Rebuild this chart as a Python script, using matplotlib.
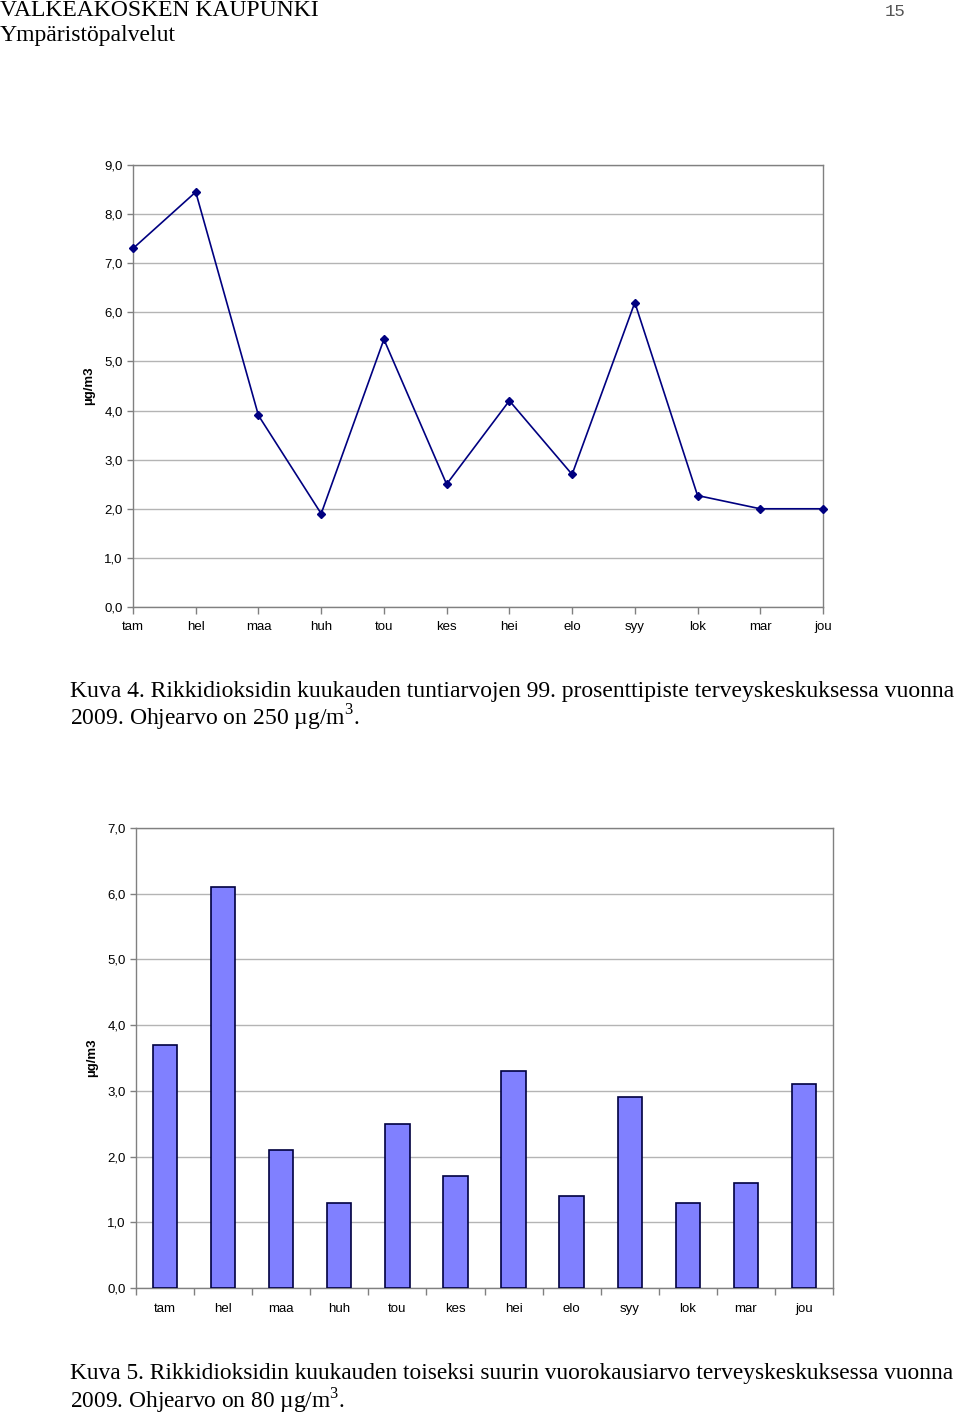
import matplotlib
matplotlib.use("Agg")
import matplotlib.pyplot as plt
import numpy as np

months = ["tam", "hel", "maa", "huh", "tou", "kes", "hei", "elo", "syy", "lok", "mar", "jou"]
p99_values = [7.3, 8.45, 3.9, 1.9, 5.45, 2.5, 4.2, 2.7, 6.2, 2.27, 2.0, 2.0]
second_daily_values = [3.7, 6.1, 2.1, 1.3, 2.5, 1.7, 3.3, 1.4, 2.9, 1.3, 1.6, 3.1]
line_yticks = [0, 1, 2, 3, 4, 5, 6, 7, 8, 9]
bar_yticks = [0, 1, 2, 3, 4, 5, 6, 7]
ylabel = "µg/m3"

plt.rcParams['font.family'] = ['Liberation Sans', 'DejaVu Sans']
plt.rcParams['mathtext.fontset'] = 'custom'
plt.rcParams['mathtext.rm'] = 'Liberation Serif'

fig = plt.figure(figsize=(9.6, 14.16), dpi=100)

def fmt(v):
    return f"{v:.1f}".replace(".", ",")

grid_c = "#b4b4b4"
axis_c = "#808080"

# Header
serif = ['Liberation Serif', 'DejaVu Serif']
fig.text(0.0, 1 - 10/1416, "VALKEAKOSKEN KAUPUNKI", family=serif, fontsize=17, va='center', ha='left')
fig.text(0.0, 1 - 36/1416, "Ympäristöpalvelut", family=serif, fontsize=17, va='center', ha='left')
fig.text(905/960, 1 - 11/1416, "15", family=['Liberation Mono', 'DejaVu Sans Mono'], fontsize=12.5,
         va='center', ha='right', color='#555555')

def style_axes(ax, yticks):
    for s in ax.spines.values():
        s.set_color(axis_c)
        s.set_linewidth(1.0)
    ax.set_yticks(yticks)
    ax.set_yticklabels([fmt(v) for v in yticks], fontsize=9.5)
    ax.yaxis.grid(True, color=grid_c, linewidth=1.0)
    ax.set_axisbelow(True)
    ax.tick_params(axis='both', colors=axis_c, labelcolor='black', length=4, width=1)
    ax.tick_params(axis='x', length=5)
    ax.set_ylabel(ylabel, fontsize=9.5, fontweight='bold')

# Line chart
ax1 = fig.add_axes([133/960, 1 - 607/1416, 690/960, 442/1416])
x = np.arange(len(months))
ax1.plot(x, p99_values, color='#000080', linewidth=1.2, marker='D', markersize=4.5, clip_on=False, zorder=3)
ax1.set_xlim(0, len(months) - 1)
ax1.set_ylim(0, 9)
style_axes(ax1, line_yticks)
ax1.set_xticks(x)
ax1.set_xticklabels(months, fontsize=9.5)
ax1.tick_params(axis='x', pad=5)
ax1.yaxis.set_label_coords(-0.055, 0.5)

# Caption 1
cap_fs = 17.0
fig.text(70/960, 1 - 691/1416, "Kuva 4. Rikkidioksidin kuukauden tuntiarvojen 99. prosenttipiste terveyskeskuksessa vuonna",
         family=serif, fontsize=cap_fs, va='center', ha='left')
fig.text(70/960, 1 - 718/1416, "2009. Ohjearvo on 250 µg/m$^{3}$.",
         family=serif, fontsize=cap_fs, va='center', ha='left')

# Bar chart
ax2 = fig.add_axes([136/960, 1 - 1288/1416, 697/960, 460/1416])
ax2.bar(x, second_daily_values, width=0.42, color='#8080ff', edgecolor='#000040', linewidth=1.2, zorder=3)
ax2.set_xlim(-0.5, len(months) - 0.5)
ax2.set_ylim(0, 7)
style_axes(ax2, bar_yticks)
ax2.set_xticks(np.arange(-0.5, len(months), 1.0))
ax2.set_xticklabels([])
ax2.set_xticks(x, minor=True)
ax2.set_xticklabels(months, minor=True, fontsize=9.5)
ax2.tick_params(axis='x', which='minor', length=0, pad=11)
ax2.yaxis.set_label_coords(-0.055, 0.5)

# Caption 2
cap2_fs = 16.8
fig.text(70/960, 1 - 1373/1416, "Kuva 5. Rikkidioksidin kuukauden toiseksi suurin vuorokausiarvo terveyskeskuksessa vuonna",
         family=serif, fontsize=cap2_fs, va='center', ha='left')
fig.text(70/960, 1 - 1400/1416, "2009. Ohjearvo on 80 µg/m$^{3}$.",
         family=serif, fontsize=cap2_fs, va='center', ha='left')

fig.savefig("out.png", dpi=100)
